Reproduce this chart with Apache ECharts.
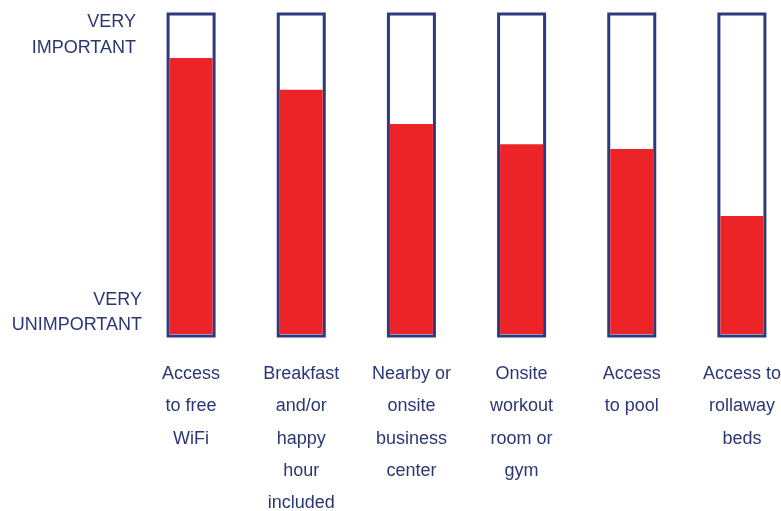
<!DOCTYPE html>
<html>
<head>
<meta charset="utf-8">
<script src="https://cdn.jsdelivr.net/npm/echarts@6/dist/echarts.min.js"></script>
<style>
  html, body { margin: 0; padding: 0; background: #fff; }
  #chart { width: 781px; height: 511px; }
</style>
</head>
<body>
<div id="chart"></div>
<script>
// amenities and their importance rating (0 = very unimportant, 100 = very important)
const categories = [
  'Access\nto free\nWiFi',
  'Breakfast\nand/or\nhappy\nhour\nincluded',
  'Nearby or\nonsite\nbusiness\ncenter',
  'Onsite\nworkout\nroom or\ngym',
  'Access\nto pool',
  'Access to\nrollaway\nbeds'
]
const importance = [86.8, 76.8, 66.0, 59.7, 58.2, 37.1]
const scaleMax = 100
const frameValues = categories.map(() => scaleMax)
const scaleLabels = ['VERY\nUNIMPORTANT', 'VERY\nIMPORTANT']
const labelAt = [6.8, 94.1]

const navy = '#2e3a7e'
const textColor = '#2b3775'
const red = '#ec2427'
const font = '"Liberation Sans", Arial, sans-serif'

let chart = echarts.init(document.getElementById('chart'))
let option = {
  animation: false,
  grid: [
    { left: 136, width: 661, top: 12.5, height: 325, outerBoundsMode: 'none' },
    { left: 136, width: 661, top: 16, height: 318, outerBoundsMode: 'none' }
  ],
  xAxis: [
    {
      gridIndex: 0,
      type: 'category',
      data: categories,
      show: false
    },
    {
      gridIndex: 1,
      type: 'category',
      data: categories,
      axisLine: { show: false },
      axisTick: { show: false },
      axisLabel: {
        interval: 0,
        margin: 24,
        color: textColor,
        fontFamily: font,
        fontSize: 18,
        lineHeight: 32.3
      }
    }
  ],
  yAxis: [
    { gridIndex: 0, type: 'value', min: 0, max: scaleMax, show: false },
    {
      gridIndex: 1,
      type: 'value',
      min: 0,
      max: scaleMax,
      splitLine: { show: false },
      axisLine: { show: false },
      axisTick: { show: false },
      axisLabel: {
        customValues: labelAt,
        margin: -6,
        align: 'right',
        formatter: function (v) {
          let txt = v > scaleMax / 2 ? scaleLabels[1] : scaleLabels[0]
          let tag = v > scaleMax / 2 ? 'top' : 'bot'
          return txt.split('\n').map(s => '{' + tag + '|' + s + '}').join('\n')
        },
        rich: {
          top: { color: textColor, fontFamily: font, fontSize: 18, lineHeight: 26, align: 'right', padding: [0, 6, 0, 0] },
          bot: { color: textColor, fontFamily: font, fontSize: 18, lineHeight: 25, align: 'right' }
        }
      }
    }
  ],
  series: [
    {
      type: 'bar',
      xAxisIndex: 0,
      yAxisIndex: 0,
      data: frameValues,
      barWidth: 49,
      itemStyle: { color: '#fff', borderColor: navy, borderWidth: 3 },
      silent: true
    },
    {
      type: 'bar',
      xAxisIndex: 1,
      yAxisIndex: 1,
      data: importance,
      barWidth: 43,
      itemStyle: { color: red }
    }
  ]
}
chart.setOption(option)
</script>
</body>
</html>
